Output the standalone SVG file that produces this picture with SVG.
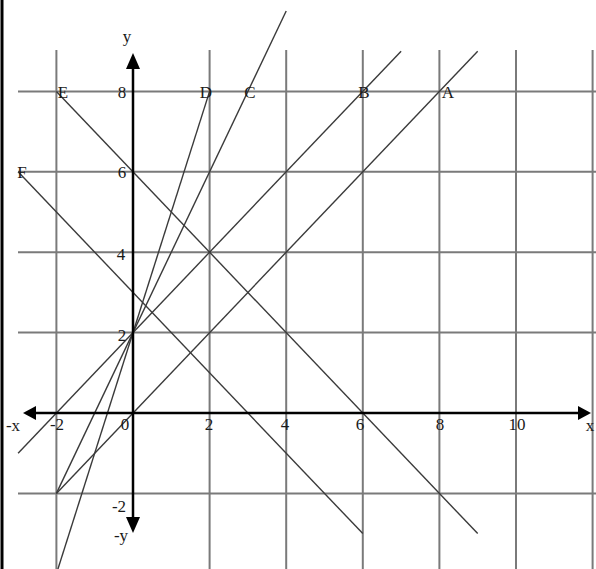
<svg xmlns="http://www.w3.org/2000/svg" width="596" height="569" viewBox="0 0 596 569">
<style>
.grid{stroke:#7a7a7a;stroke-width:2;fill:none}
.ln{stroke:#3a3a3a;stroke-width:1.4;fill:none}
.ax{stroke:#000;stroke-width:2.5;fill:none}
.ah{fill:#000}
text{font-family:"Liberation Serif","Times New Roman",serif;font-size:17px;fill:#1a1a1a;text-anchor:middle}
</style>
<rect x="0" y="0" width="596" height="569" fill="#fff"/>
<line x1="2" y1="0" x2="2" y2="569" stroke="#000" stroke-width="3"/>
<g id="grid">
<line class="grid" x1="56.4" y1="50" x2="56.4" y2="569"/>
<line class="grid" x1="209.6" y1="50" x2="209.6" y2="569"/>
<line class="grid" x1="286.2" y1="50" x2="286.2" y2="569"/>
<line class="grid" x1="362.8" y1="50" x2="362.8" y2="569"/>
<line class="grid" x1="439.4" y1="50" x2="439.4" y2="569"/>
<line class="grid" x1="516" y1="50" x2="516" y2="569"/>
<line class="grid" x1="592.6" y1="50" x2="592.6" y2="569"/>
<line class="grid" x1="18" y1="91.4" x2="596" y2="91.4"/>
<line class="grid" x1="18" y1="171.8" x2="596" y2="171.8"/>
<line class="grid" x1="18" y1="252.2" x2="596" y2="252.2"/>
<line class="grid" x1="18" y1="332.6" x2="596" y2="332.6"/>
<line class="grid" x1="18" y1="493.4" x2="596" y2="493.4"/>
</g>
<g id="connectors">
<line id="lineA" class="ln" x1="56.4" y1="493.4" x2="477.7" y2="51.2"/>
<line id="lineB" class="ln" x1="18.1" y1="453.2" x2="401.1" y2="51.2"/>
<line id="lineC" class="ln" x1="56.4" y1="493.4" x2="286.2" y2="11"/>
<line id="lineD" class="ln" x1="56.4" y1="573.8" x2="209.6" y2="91.4"/>
<line id="lineE" class="ln" x1="56.4" y1="91.4" x2="477.7" y2="533.6"/>
<line id="lineF" class="ln" x1="18.1" y1="171.8" x2="362.8" y2="533.6"/>
</g>
<g id="axes">
<line class="ax" x1="34" y1="413" x2="579" y2="413"/>
<line class="ax" x1="133" y1="68" x2="133" y2="519"/>
<polygon class="ah" points="23,413 36,406 36,420"/>
<polygon class="ah" points="591,413 578,406 578,420"/>
<polygon class="ah" points="133,53 126,69 140,69"/>
<polygon class="ah" points="133,533 126,517 140,517"/>
</g>
<g id="axis-labels">
<text x="127" y="42">y</text>
<text x="121" y="541">-y</text>
<text x="13" y="431">-x</text>
<text x="590" y="431">x</text>
</g>
<g id="ticks">
<text x="122" y="98">8</text>
<text x="122" y="178">6</text>
<text x="121" y="260">4</text>
<text x="122" y="341">2</text>
<text x="119" y="512">-2</text>
<text x="125" y="430">0</text>
<text x="57" y="430">-2</text>
<text x="209" y="430">2</text>
<text x="285" y="430">4</text>
<text x="360" y="430">6</text>
<text x="440" y="430">8</text>
<text x="517" y="430">10</text>
</g>
<g id="point-E"><text x="63" y="98">E</text></g>
<g id="point-D"><text x="206" y="98">D</text></g>
<g id="point-C"><text x="250" y="98">C</text></g>
<g id="point-B"><text x="364" y="98">B</text></g>
<g id="point-A"><text x="448" y="98">A</text></g>
<g id="point-F"><text x="22" y="178">F</text></g>
</svg>
